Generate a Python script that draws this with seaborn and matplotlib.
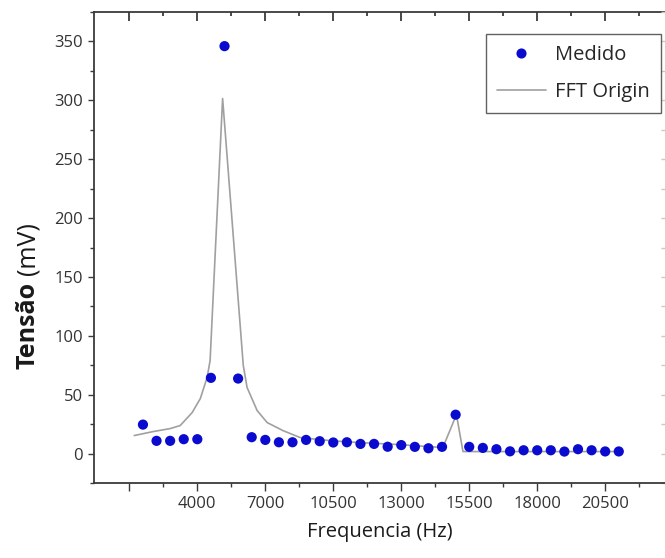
import matplotlib
matplotlib.use("Agg")
import matplotlib.pyplot as plt
import pandas as pd
import seaborn as sns
from matplotlib.ticker import FixedLocator, MultipleLocator, NullFormatter
from matplotlib.lines import Line2D

# Measured amplitude at each test frequency (Hz -> mV)
freq_medido = [3500, 4000, 4500, 5000, 5500, 6000, 6500, 7000, 7500, 8000,
               8500, 9000, 9500, 10000, 10500, 11000, 11500, 12000, 12500, 13000,
               13500, 14000, 14500, 15000, 15500, 16000, 16500, 17000, 17500, 18000,
               18500, 19000, 19500, 20000, 20500, 21000]
tensao_medido = [24.6, 10.8, 10.8, 12.2, 12.2, 64.3, 346.0, 63.7, 13.9, 11.6,
                 9.6, 9.6, 11.6, 10.5, 9.4, 9.6, 8.2, 8.2, 5.8, 7.2,
                 5.7, 4.5, 5.7, 33.0, 5.7, 4.8, 3.7, 1.9, 2.8, 2.8,
                 2.8, 1.7, 3.7, 2.8, 1.8, 1.8]

# Spectrum obtained with the FFT tool in Origin
freq_fft = [3180, 3880, 4500, 4870, 5310, 5610, 5860, 5970, 6430, 7190,
            7330, 7700, 8070, 8650, 9280, 10380, 11480, 12950, 14530, 15030,
            15270, 21030]
tensao_fft = [15.3, 18.7, 21.2, 23.8, 34.8, 46.7, 64.6, 79.0, 301.6, 74.8,
              56.1, 36.5, 26.3, 19.5, 13.6, 11.0, 9.3, 7.6, 5.1, 33.1,
              1.7, 1.7]

x_tick_pos = [3000, 5500, 8000, 10500, 13000, 15500, 18000, 20500]
x_tick_labels = ["", "4000", "7000", "10500", "13000", "15500", "18000", "20500"]
x_minor_pos = [4250, 6750, 9250, 11750, 14250, 16750, 19250, 21750]
y_ticks = [0, 50, 100, 150, 200, 250, 300, 350]

medido = pd.DataFrame({"freq": freq_medido, "tensao": tensao_medido})
fft = pd.DataFrame({"freq": freq_fft, "tensao": tensao_fft})

sns.set_style("ticks")
plt.rcParams["font.family"] = ["Open Sans", "DejaVu Sans"]

W, H = 665, 558
fig = plt.figure(figsize=(W / 100, H / 100), dpi=100)
ax = fig.add_axes([94 / W, 75 / H, 571 / W, 471 / H])

blue = "#0b0bcf"
line_gray = "#a0a0a0"
axis_col = "#3a3a3a"

sns.lineplot(data=fft, x="freq", y="tensao", ax=ax, color=line_gray,
             linewidth=1.2, sort=False, estimator=None, zorder=2, legend=False)
sns.scatterplot(data=medido, x="freq", y="tensao", ax=ax, color=blue,
                s=54, edgecolor="none", zorder=3, legend=False)

ax.set_xlim(1700, 22700)
ax.set_ylim(-25, 375)

# bottom axis
ax.xaxis.set_major_locator(FixedLocator(x_tick_pos))
ax.set_xticklabels(x_tick_labels)
ax.xaxis.set_minor_locator(FixedLocator(x_minor_pos))
ax.tick_params(axis="x", which="major", direction="out", length=5.5, width=1.0,
               color=axis_col, labelsize=12, labelcolor="#333333", pad=4)
ax.tick_params(axis="x", which="minor", direction="out", length=3, width=1.0,
               color=axis_col)

# left axis
ax.yaxis.set_major_locator(FixedLocator(y_ticks))
ax.yaxis.set_minor_locator(MultipleLocator(25))
ax.tick_params(axis="y", which="major", direction="out", length=4, width=1.0,
               color=axis_col, labelsize=12, labelcolor="#333333", pad=4)
ax.tick_params(axis="y", which="minor", direction="out", length=3, width=1.0,
               color=axis_col)

for side in ("left", "bottom"):
    ax.spines[side].set_color(axis_col)
    ax.spines[side].set_linewidth(1.3)
ax.spines["top"].set_visible(False)
ax.spines["right"].set_visible(False)

# top axis: same ticks pointing inward, no labels
top = ax.secondary_xaxis("top")
top.xaxis.set_major_locator(FixedLocator(x_tick_pos))
top.xaxis.set_minor_locator(FixedLocator(x_minor_pos))
top.xaxis.set_major_formatter(NullFormatter())
top.tick_params(which="major", direction="in", length=6.5, width=1.3, color=axis_col)
top.tick_params(which="minor", direction="in", length=3, width=1.3, color=axis_col)
top.spines["top"].set_color(axis_col)
top.spines["top"].set_linewidth(1.3)

# faint right-hand ticks
right = ax.secondary_yaxis("right")
right.yaxis.set_major_locator(FixedLocator(y_ticks))
right.yaxis.set_minor_locator(MultipleLocator(25))
right.yaxis.set_major_formatter(NullFormatter())
right.tick_params(which="both", direction="in", length=3, width=1.0, color="#c8c8c8")
right.spines["right"].set_visible(False)

ax.set_xlabel("Frequencia (Hz)", fontsize=14.5, color="#1a1a1a", labelpad=7)
ax.set_ylabel("")

# y label: bold quantity name followed by the unit in regular weight
fig.text(28 / W, 1 - 282 / H, "Tensão", rotation=90, rotation_mode="anchor",
         ha="right", va="center", fontsize=18, fontweight="bold", color="#1a1a1a")
fig.text(28 / W, 1 - 275 / H, "(mV)", rotation=90, rotation_mode="anchor",
         ha="left", va="center", fontsize=18, color="#1a1a1a")

handles = [
    Line2D([], [], linestyle="none", marker="o", markersize=7.3,
           markerfacecolor=blue, markeredgecolor="none", label="Medido"),
    Line2D([], [], color=line_gray, linewidth=1.2, label="FFT Origin"),
]
leg = ax.legend(handles=handles, loc="upper right",
                bbox_to_anchor=((661 - 94) / 571, 1 - 22 / 471),
                borderaxespad=0, fontsize=14.5, frameon=True, fancybox=False,
                handlelength=2.45, handletextpad=0.45, borderpad=0.55,
                labelspacing=0.85)
leg.get_frame().set_edgecolor("#3a3a3a")
leg.get_frame().set_linewidth(1.0)

fig.savefig("out.png", dpi=100)
